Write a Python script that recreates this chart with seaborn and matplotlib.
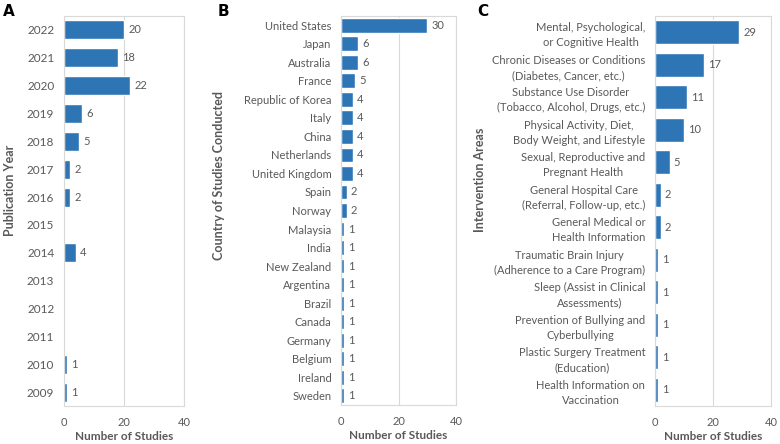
import matplotlib
matplotlib.use('Agg')
import matplotlib.pyplot as plt
import seaborn as sns
import pandas as pd

''' DATA '''
years = ['2022', '2021', '2020', '2019', '2018', '2017', '2016',
         '2015', '2014', '2013', '2012', '2011', '2010', '2009']
year_counts = [20, 18, 22, 6, 5, 2, 2, 0, 4, 0, 0, 0, 1, 1]

countries = ['United States', 'Japan', 'Australia', 'France', 'Republic of Korea',
             'Italy', 'China', 'Netherlands', 'United Kingdom', 'Spain', 'Norway',
             'Malaysia', 'India', 'New Zealand', 'Argentina', 'Brazil', 'Canada',
             'Germany', 'Belgium', 'Ireland', 'Sweden']
country_counts = [30, 6, 6, 5, 4, 4, 4, 4, 4, 2, 2, 1, 1, 1, 1, 1, 1, 1, 1, 1, 1]

areas = ['Mental, Psychological,\nor Cognitive Health',
         'Chronic Diseases or Conditions\n(Diabetes, Cancer, etc.)',
         'Substance Use Disorder\n(Tobacco, Alcohol, Drugs, etc.)',
         'Physical Activity, Diet,\nBody Weight, and Lifestyle',
         'Sexual, Reproductive and\nPregnant Health',
         'General Hospital Care\n(Referral, Follow-up, etc.)',
         'General Medical or\nHealth Information',
         'Traumatic Brain Injury\n(Adherence to a Care Program)',
         'Sleep (Assist in Clinical\nAssessments)',
         'Prevention of Bullying and\nCyberbullying',
         'Plastic Surgery Treatment\n(Education)',
         'Health Information on\nVaccination']
area_counts = [29, 17, 11, 10, 5, 2, 2, 1, 1, 1, 1, 1]

''' STYLE '''
sns.set_style('white')
plt.rcParams['font.family'] = ['Lato', 'DejaVu Sans']
grey = '#595959'
bar_col = '#2E75B6'
grid_col = '#D9D9D9'

W, H = 780, 444
fig = plt.figure(figsize=(7.8, 4.44), dpi=100)


def panel(rect, cats, vals, ylabel, ylab_pos, letter, letter_x, width, tsize=8):
    '''one horizontal bar panel'''
    l, r, t, b = rect
    ax = fig.add_axes([l / W, 1 - b / H, (r - l) / W, (b - t) / H])
    df = pd.DataFrame({'cat': cats, 'val': vals})
    sns.barplot(data=df, y='cat', x='val', orient='h', color=bar_col,
                width=width, saturation=1, ax=ax)
    labels = [str(v) if v > 0 else '' for v in vals]
    ax.bar_label(ax.containers[0], labels=labels, padding=3,
                 fontsize=8, color=grey)
    ax.set_xlim(0, 40)
    ax.set_xticks([0, 20, 40])
    ax.xaxis.grid(True, color=grid_col, linewidth=0.8)
    ax.set_axisbelow(True)
    for s in ax.spines.values():
        s.set_color(grid_col)
        s.set_linewidth(0.8)
    ax.tick_params(axis='both', length=0, labelsize=8, labelcolor=grey)
    ax.tick_params(axis='y', pad=7, labelsize=tsize)
    ax.tick_params(axis='x', pad=8)
    for lbl in ax.get_yticklabels():
        lbl.set_multialignment('center')
        lbl.set_linespacing(1.45)
    ax.set_xlabel('Number of Studies', fontsize=8.5, fontweight='bold',
                  color=grey)
    ax.xaxis.set_label_coords(0.5, -0.065)
    ax.set_ylabel(ylabel, fontsize=9, fontweight='bold', color=grey)
    lx, ly = ylab_pos
    ax.yaxis.set_label_coords((lx - l) / (r - l), (b - ly) / (b - t))
    fig.text(letter_x / W, 1 - 12 / H, letter, fontsize=11,
             fontweight='bold', color='black', va='center', ha='left',
             family='DejaVu Sans')
    return ax


panel((64, 184, 16, 406), years, year_counts, 'Publication Year',
      (16, 190), 'A', 3, 0.68, tsize=8.5)
panel((341, 456, 16, 405), countries, country_counts,
      'Country of Studies Conducted', (225, 176), 'B', 218, 0.8)
panel((655, 771, 16, 406), areas, area_counts, 'Intervention Areas',
      (486, 180), 'C', 477, 0.74)

fig.savefig('out.png', dpi=100)
